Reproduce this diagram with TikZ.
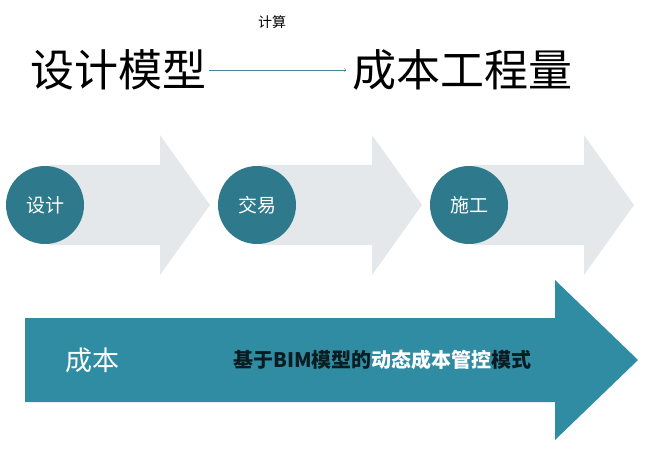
\documentclass[tikz,border=0pt]{standalone}
\usepackage{fontspec}
\usetikzlibrary{calc}
\newfontfamily\cjk{Noto Sans CJK SC}
\definecolor{teal1}{HTML}{2F8CA3}
\definecolor{circ}{HTML}{2E7A8C}
\definecolor{chev}{HTML}{E4E8EA}
\begin{document}
\begin{tikzpicture}[x=1pt,y=-1pt,
  chevron/.style={fill=chev,draw=none},
  disc/.style={circle,fill=circ,minimum size=78pt,inner sep=0pt,text=white,font=\cjk\fontsize{19}{19}\selectfont},
  big/.style={font=\cjk\fontsize{44}{44}\selectfont,inner sep=0pt}]
\useasboundingbox (0,0) rectangle (650,449);
\node[big,anchor=west] (m) at (30,70) {设计模型};
\node[big,anchor=west] (c) at (352,70) {成本工程量};
\draw[teal1!70!gray,thin,->] ($(m.east)+(3,0)$) -- ($(c.west)+(-6,0)$);
\node[font=\cjk\fontsize{14}{14}\selectfont] (js) at (272,22) {计算};
\foreach \x/\t/\n in {0/设计/d,212/交易/j,424/施工/s}{
  \fill[chevron] (50+\x,165) -- (160+\x,165) -- (160+\x,135) -- (210+\x,205) -- (160+\x,275) -- (160+\x,245) -- (50+\x,245) -- cycle;
  \node[disc] (\n) at (45+\x,205) {\t};
}
\fill[teal1] (25,318) -- (555,318) -- (555,280) -- (638,360) -- (555,440) -- (555,402) -- (25,402) -- cycle;
\node[font=\cjk\fontsize{27}{27}\selectfont,text=white] (cb) at (92,360) {成本};
\node[font=\cjk\bfseries\fontsize{20}{20}\selectfont,text=black!80!teal1,anchor=west] (t) at (230,360) {基于BIM模型的\textcolor{white}{动态成本管控}模式};
\end{tikzpicture}
\end{document}
